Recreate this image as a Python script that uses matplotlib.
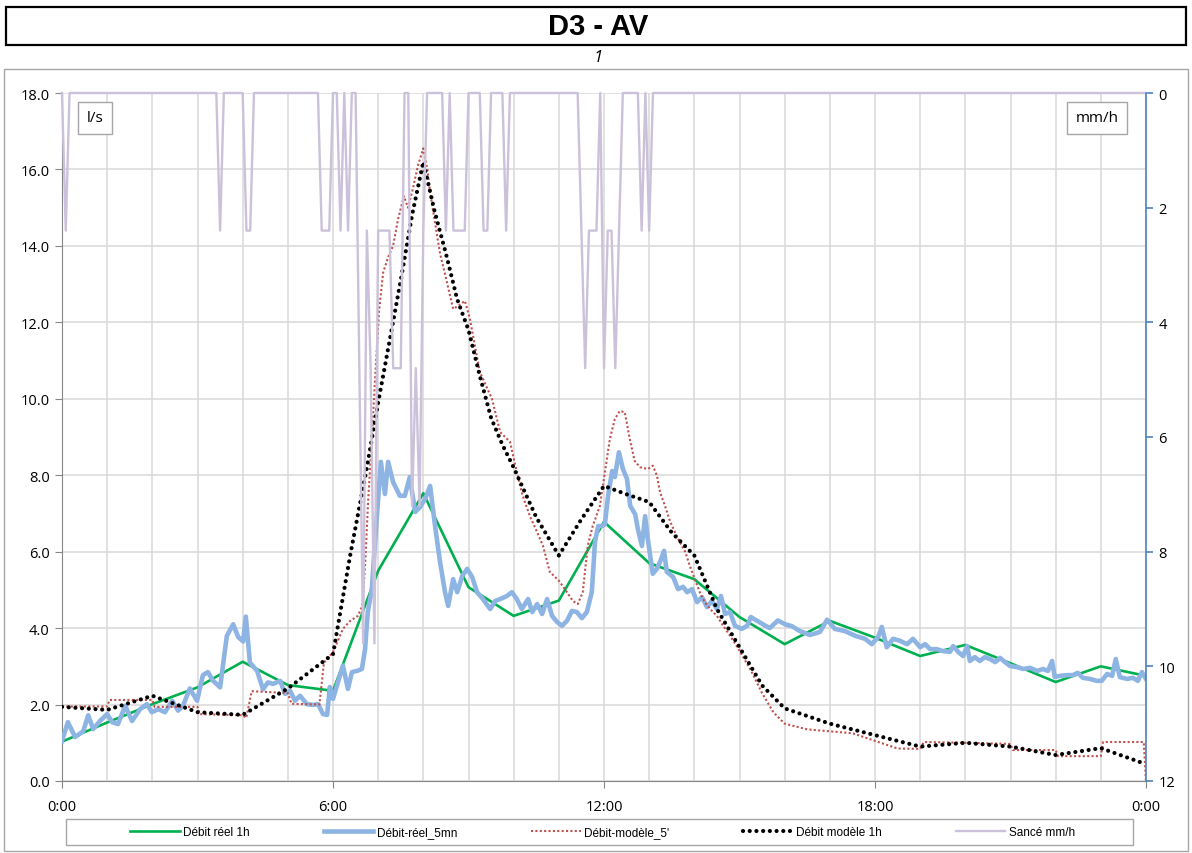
import numpy as np
import matplotlib.pyplot as plt
from matplotlib.patches import Rectangle
from matplotlib.lines import Line2D
from matplotlib.ticker import MultipleLocator, FuncFormatter

W, H = 1192, 854

# Débit réel 1h (l/s), one value per hour
hours = list(range(25))
debit_reel_1h = [1.03, 1.53, 2.01, 2.45, 3.12, 2.51, 2.36, 5.5, 7.53, 5.07, 4.32, 4.72, 6.78,
                 5.7, 5.28, 4.29, 3.58, 4.19, 3.75, 3.27, 3.56, 3.08, 2.59, 3.0, 2.75]

# Débit-réel_5mn (l/s)
t_reel_5mn = [0.0, 0.13, 0.29, 0.47, 0.58, 0.69, 0.84, 1.0, 1.11, 1.24, 1.4, 1.55, 1.73, 1.88,
              1.99, 2.13, 2.28, 2.44, 2.57, 2.68, 2.83, 2.99, 3.12, 3.23, 3.34, 3.5, 3.65, 3.79,
              3.9, 4.01, 4.07, 4.16, 4.32, 4.45, 4.56, 4.67, 4.83, 4.94, 5.05, 5.16, 5.27, 5.42,
              5.56, 5.67, 5.78, 5.87, 5.93, 6.0, 6.11, 6.22, 6.33, 6.42, 6.53, 6.64, 6.71, 6.77,
              6.86, 6.93, 7.0, 7.06, 7.15, 7.22, 7.33, 7.48, 7.59, 7.7, 7.82, 7.93, 8.04, 8.15,
              8.26, 8.37, 8.48, 8.55, 8.66, 8.75, 8.86, 8.97, 9.08, 9.19, 9.32, 9.48, 9.59, 9.7,
              9.85, 9.96, 10.07, 10.18, 10.32, 10.41, 10.52, 10.63, 10.74, 10.85, 10.96, 11.07,
              11.18, 11.29, 11.4, 11.51, 11.62, 11.73, 11.8, 11.87, 11.96, 12.02, 12.09, 12.18,
              12.24, 12.33, 12.42, 12.51, 12.58, 12.69, 12.75, 12.84, 12.91, 12.97, 13.08, 13.17,
              13.24, 13.33, 13.39, 13.53, 13.64, 13.75, 13.84, 13.95, 14.06, 14.17, 14.28, 14.39,
              14.5, 14.59, 14.68, 14.79, 14.9, 15.05, 15.17, 15.25, 15.39, 15.52, 15.67, 15.85,
              16.01, 16.16, 16.34, 16.56, 16.78, 16.94, 17.11, 17.34, 17.56, 17.78, 17.93, 18.07,
              18.15, 18.26, 18.4, 18.55, 18.71, 18.84, 19.0, 19.11, 19.22, 19.37, 19.5, 19.66,
              19.73, 19.84, 19.95, 20.04, 20.1, 20.21, 20.32, 20.43, 20.55, 20.66, 20.77, 20.88,
              20.99, 21.14, 21.28, 21.43, 21.59, 21.72, 21.83, 21.92, 21.98, 22.09, 22.25, 22.38,
              22.49, 22.6, 22.76, 22.91, 23.02, 23.14, 23.25, 23.33, 23.42, 23.58, 23.71, 23.82,
              23.91, 24.0]
debit_reel_5mn = [1.05, 1.54, 1.15, 1.3, 1.72, 1.36, 1.57, 1.75, 1.54, 1.49, 1.97, 1.57, 1.88, 2.01,
                  1.8, 1.88, 1.8, 2.1, 1.84, 1.97, 2.42, 2.1, 2.77, 2.85, 2.63, 2.45, 3.8, 4.1,
                  3.77, 3.65, 4.3, 3.1, 2.88, 2.4, 2.58, 2.54, 2.62, 2.28, 2.36, 2.1, 2.23, 2.01,
                  1.99, 2.01, 1.75, 1.73, 2.46, 2.15, 2.59, 3.02, 2.41, 2.85, 2.88, 2.93, 3.45, 4.42,
                  5.02, 6.25, 7.38, 8.35, 7.51, 8.35, 7.82, 7.46, 7.46, 7.95, 7.04, 7.17, 7.38, 7.72,
                  6.67, 5.73, 4.94, 4.58, 5.28, 4.94, 5.36, 5.55, 5.34, 4.94, 4.76, 4.5, 4.71, 4.76,
                  4.84, 4.94, 4.76, 4.5, 4.76, 4.42, 4.63, 4.37, 4.76, 4.32, 4.16, 4.06,
                  4.19, 4.45, 4.42, 4.26, 4.42, 4.94, 6.25, 6.67, 6.67, 6.72, 7.46, 8.11,
                  7.95, 8.6, 8.16, 7.9, 7.2, 6.98, 6.59, 6.15, 6.93, 6.33, 5.42, 5.55,
                  5.73, 6.02, 5.47, 5.34, 5.02, 5.08, 4.94, 5.02, 4.68, 4.81, 4.55, 4.71,
                  4.5, 4.84, 4.37, 4.42, 4.06, 3.98, 4.06, 4.29, 4.19, 4.1, 4.0, 4.2,
                  4.1, 4.05, 3.92, 3.82, 3.9, 4.22, 3.98, 3.92, 3.8, 3.72, 3.58, 3.77,
                  4.03, 3.5, 3.72, 3.67, 3.58, 3.72, 3.5, 3.58, 3.45, 3.45, 3.4, 3.38,
                  3.53, 3.38, 3.27, 3.53, 3.14, 3.24, 3.14, 3.24, 3.19, 3.11, 3.22, 3.11,
                  3.01, 2.98, 2.93, 2.96, 2.88, 2.93, 2.88, 3.14, 2.72, 2.75, 2.77, 2.77,
                  2.83, 2.7, 2.67, 2.62, 2.62, 2.8, 2.75, 3.19, 2.72, 2.67, 2.7, 2.62,
                  2.85, 2.67]

# Débit-modèle_5' (l/s)
t_modele_5 = [0.0, 1.0, 1.05, 2.0, 2.05, 3.0, 3.05, 4.0, 4.08, 4.2, 5.0, 5.08, 5.7, 5.8, 6.0,
              6.22, 6.38, 6.55, 6.65, 6.71, 6.78, 6.87, 6.93, 7.02, 7.11, 7.22, 7.33, 7.44, 7.57,
              7.66, 7.77, 7.88, 8.0, 8.09, 8.15, 8.26, 8.37, 8.52, 8.66, 8.77, 8.92, 9.03, 9.14,
              9.25, 9.52, 9.7, 9.92, 10.07, 10.2, 10.36, 10.52, 10.65, 10.8, 11.0, 11.18, 11.31,
              11.42, 11.53, 11.64, 11.75, 11.91, 12.02, 12.13, 12.24, 12.35, 12.46, 12.57, 12.68,
              12.8, 12.97, 13.08, 13.17, 13.24, 13.35, 13.46, 13.57, 13.68, 13.8, 13.9, 14.01,
              14.12, 14.23, 14.35, 14.5, 14.64, 14.79, 14.94, 15.25, 15.5, 15.75, 16.0, 16.5,
              17.0, 17.5, 18.0, 18.5, 19.0, 19.08, 20.0, 21.0, 21.05, 22.0, 22.05, 23.0, 23.05,
              23.95, 24.0]
debit_modele_5 = [1.95, 1.95, 2.12, 2.12, 1.94, 1.94, 1.75, 1.72, 1.65, 2.35, 2.3, 2.02, 2.0, 3.1,
                  3.37, 3.98, 4.19, 4.32, 4.58, 5.63, 7.38, 9.13, 10.5, 12.3, 13.3, 13.7, 14.0,
                  14.7, 15.3, 15.0, 15.5, 16.1, 16.55, 16.0, 15.4, 14.6, 13.8, 13.06, 12.35, 12.43,
                  12.56, 12.1, 11.4, 10.7, 10.0, 9.13, 8.87, 8.08, 7.46, 6.93, 6.51, 6.15, 5.47,
                  5.24, 4.94, 4.71, 4.63, 4.94, 6.15, 6.67, 7.2, 8.08, 8.95, 9.47, 9.68, 9.65,
                  8.95, 8.37, 8.21, 8.16, 8.25, 8.0, 7.56, 7.2, 6.8, 6.51, 6.25, 5.99, 5.63, 5.28,
                  4.94, 4.68, 4.5, 4.32, 4.06, 3.8, 3.53, 2.9, 2.3, 1.8, 1.5, 1.35, 1.3, 1.25,
                  1.05, 0.85, 0.84, 1.02, 1.0, 0.97, 0.81, 0.81, 0.65, 0.65, 1.02, 1.02, 0.0]

# Débit modèle 1h (l/s)
t_modele_1h = [0, 1, 2, 3, 4, 5, 6, 6.38, 6.75, 7.0, 7.25, 7.5, 7.75, 8.0, 8.25, 8.5, 8.75,
               9.0, 9.25, 9.5, 9.75, 10.0, 10.5, 11.0, 11.5, 12.0, 12.5, 13.0, 13.5, 14.0, 14.5,
               15.0, 15.5, 16, 17, 18, 19, 20, 21, 22, 23, 24]
debit_modele_1h = [1.94, 1.86, 2.23, 1.8, 1.73, 2.42, 3.32, 5.9, 8.2, 9.9, 11.5, 13.1, 14.8,
                   16.2, 14.9, 13.8, 12.6, 11.8, 10.6, 9.5, 8.8, 8.2, 6.9, 5.9, 6.85, 7.72, 7.5,
                   7.3, 6.5, 5.9, 4.5, 3.5, 2.5, 1.9, 1.5, 1.2, 0.9, 1.0, 0.9, 0.68, 0.86, 0.44]

# Sancé mm/h, 5 minute steps: only the non-zero steps are listed
pluie_heure = ["0:05", "3:30", "4:05", "4:10", "5:45", "5:50", "5:55", "6:10", "6:20", "6:35",
               "6:40", "6:45", "6:50", "6:55", "7:00", "7:05", "7:10", "7:15", "7:20", "7:25",
               "7:30", "7:45", "7:50", "7:55", "8:00", "8:30", "8:40", "8:45", "8:50", "8:55",
               "9:20", "9:25", "9:50", "11:30", "11:35", "11:40", "11:45", "11:50", "12:00",
               "12:05", "12:10", "12:15", "12:20", "12:50", "13:00"]
pluie_mmh = [2.4, 2.4, 2.4, 2.4, 2.4, 2.4, 2.4, 2.4, 2.4, 4.8,
             9.6, 2.4, 4.8, 9.6, 2.4, 2.4, 2.4, 2.4, 4.8, 4.8,
             4.8, 7.2, 4.8, 7.2, 2.4, 2.4, 2.4, 2.4, 2.4, 2.4,
             2.4, 2.4, 2.4, 2.4, 4.8, 2.4, 2.4, 2.4, 4.8,
             2.4, 2.4, 4.8, 2.4, 2.4, 2.4]

t_5mn = np.arange(0, 24 * 60 + 1, 5) / 60
sance = np.zeros(len(t_5mn))
for hhmm, v in zip(pluie_heure, pluie_mmh):
    h, m = hhmm.split(":")
    sance[(int(h) * 60 + int(m)) // 5] = v

TXT = ["Open Sans", "DejaVu Sans"]
NARROW = ["Liberation Sans Narrow", "Liberation Sans", "DejaVu Sans"]

fig = plt.figure(figsize=(W / 100, H / 100), dpi=100)

# title band and chart frame
fig.patches.append(Rectangle((6 / W, 1 - 46 / H), 1180 / W, 38 / H, transform=fig.transFigure,
                             fill=False, edgecolor="black", linewidth=1.6))
fig.text(598 / W, 1 - 27 / H, "D3 - AV", ha="center", va="center", fontsize=21,
         fontweight="bold", family=NARROW)
fig.text(598 / W, 1 - 58 / H, "1", ha="center", va="center", fontsize=12, style="italic",
         family=TXT)
fig.patches.append(Rectangle((4 / W, 1 - 852 / H), 1184 / W, 782 / H, transform=fig.transFigure,
                             fill=False, edgecolor="#a6a6a6", linewidth=1.0))

ax = fig.add_axes([62 / W, 1 - 782 / H, 1084 / W, 688 / H])
ax2 = ax.twinx()

ax.plot(hours, debit_reel_1h, color="#00b050", lw=1.9, zorder=3)
ax.plot(t_reel_5mn, debit_reel_5mn, color="#8db4e2", lw=3.3, solid_joinstyle="round", zorder=4)
ax.plot(t_modele_5, debit_modele_5, color="#c0504d", lw=1.5, linestyle=(0, (1, 1.1)), zorder=5)
ax.plot(t_modele_1h, debit_modele_1h, color="black", lw=3.0, linestyle=(0, (0.01, 1.6)),
        dash_capstyle="round", zorder=6)
ax2.plot(t_5mn, sance, color="#ccc1da", lw=1.7, clip_on=False)

ax.set_xlim(0, 24)
ax.set_ylim(0, 18)
ax2.set_ylim(12, 0)

ax.xaxis.set_major_locator(MultipleLocator(6))
ax.xaxis.set_minor_locator(MultipleLocator(1))
ax.xaxis.set_major_formatter(FuncFormatter(lambda v, p: f"{int(round(v)) % 24}:00"))
ax.yaxis.set_major_locator(MultipleLocator(2))
ax.yaxis.set_major_formatter(FuncFormatter(lambda v, p: f"{v:.1f}"))
ax2.yaxis.set_major_locator(MultipleLocator(2))

ax.grid(True, which="major", axis="y", color="#d9d9d9", lw=1.1)
ax.grid(True, which="minor", axis="x", color="#d9d9d9", lw=1.1)
ax.grid(True, which="major", axis="x", color="#d9d9d9", lw=1.1)
ax.set_axisbelow(True)

for s in ("top", "right"):
    ax.spines[s].set_visible(False)
for s in ("top", "left", "bottom"):
    ax2.spines[s].set_visible(False)
ax.spines["left"].set_color("#868686")
ax.spines["bottom"].set_color("#868686")
ax2.spines["right"].set_color("#4f81bd")
ax2.spines["right"].set_linewidth(1.2)
ax.tick_params(axis="both", which="major", length=5, color="#868686", labelsize=10.5, pad=4)
ax.tick_params(axis="x", which="minor", length=0)
ax.tick_params(axis="x", which="major", pad=8)
ax2.tick_params(axis="y", length=5, width=1.2, color="#4f81bd", labelsize=10.5, pad=4)
for lab in ax.get_xticklabels() + ax.get_yticklabels() + ax2.get_yticklabels():
    lab.set_family(TXT)

# unit boxes
ax.text(0.0055 + 27 / 1084, 1 - 25 / 688, "l/s", transform=ax.transAxes, ha="center",
        va="center", fontsize=11, family=TXT, zorder=10,
        bbox=dict(boxstyle="square,pad=0.55", fc="white", ec="#a6a6a6", lw=1.0))
ax.text(1 - 49 / 1084, 1 - 25 / 688, "mm/h", transform=ax.transAxes, ha="center",
        va="center", fontsize=11, family=TXT, zorder=10,
        bbox=dict(boxstyle="square,pad=0.55", fc="white", ec="#a6a6a6", lw=1.0))

# legend below the plot
fig.patches.append(Rectangle((66 / W, 1 - 846 / H), 1067 / W, 26 / H, transform=fig.transFigure,
                             fill=False, edgecolor="#a6a6a6", linewidth=1.0))
handles = [
    Line2D([], [], color="#00b050", lw=1.9),
    Line2D([], [], color="#8db4e2", lw=3.3),
    Line2D([], [], color="#c0504d", lw=1.5, linestyle=(0, (1, 1.1))),
    Line2D([], [], color="black", lw=3.0, linestyle=(0, (0.01, 1.6)), dash_capstyle="round"),
    Line2D([], [], color="#ccc1da", lw=1.7),
]
labels = ["Débit réel 1h", "Débit-réel_5mn", "Débit-modèle_5'", "Débit modèle 1h", "Sancé mm/h"]
fig.legend(handles, labels, loc="center", ncol=5, mode="expand", frameon=False,
           bbox_to_anchor=(130 / W, 1 - 846 / H, 945 / W, 26 / H), handlelength=4.2,
           handletextpad=0.3, borderaxespad=0, borderpad=0,
           prop=dict(family=NARROW, size=8.5))

fig.savefig("out.png", dpi=100)
